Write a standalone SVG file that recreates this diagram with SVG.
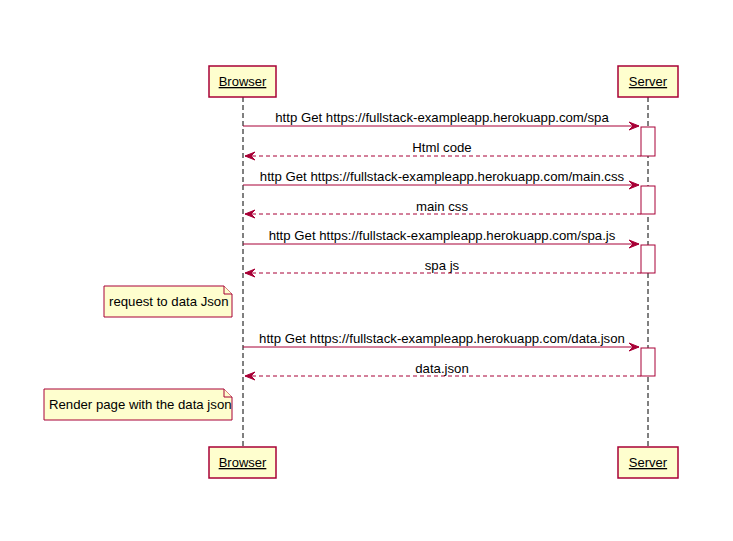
<svg xmlns="http://www.w3.org/2000/svg" width="733" height="541" viewBox="0 0 733 541">
<style>
.part{fill:#FEFECE;stroke:#A80036;stroke-width:1.5}
.ptxt{font-family:"Liberation Sans",Arial,sans-serif;font-size:13px;fill:#000;text-anchor:middle;text-decoration:underline}
.life{stroke:#000;stroke-width:1;stroke-dasharray:5,3;fill:none}
.act{fill:#FFFFFF;stroke:#A80036;stroke-width:1}
.msg{stroke:#A80036;stroke-width:1;fill:none}
.ret{stroke:#A80036;stroke-width:1;fill:none;stroke-dasharray:4,3}
.head{fill:#A80036;stroke:#A80036;stroke-width:1}
.mtxt{font-family:"Liberation Sans",Arial,sans-serif;font-size:13.2px;fill:#000;text-anchor:middle}
.note{fill:#FEFECE;stroke:#A80036;stroke-width:1}
.ntxt{font-family:"Liberation Sans",Arial,sans-serif;font-size:13.2px;fill:#000}
</style>
<rect width="733" height="541" fill="#FFFFFF"/>
<g id="lifelines">
<line class="life" x1="243" y1="97" x2="243" y2="447"/>
<line class="life" x1="648" y1="97" x2="648" y2="447"/>
</g>
<g id="browser">
<rect class="part" x="209" y="66" width="67" height="31"/>
<text class="ptxt" x="242.5" y="86">Browser</text>
</g>
<g id="server">
<rect class="part" x="618" y="66" width="60" height="31"/>
<text class="ptxt" x="648" y="86">Server</text>
</g>
<g id="browser-bottom">
<rect class="part" x="209" y="447" width="67" height="31"/>
<text class="ptxt" x="242.5" y="467">Browser</text>
</g>
<g id="server-bottom">
<rect class="part" x="618" y="447" width="60" height="31"/>
<text class="ptxt" x="648" y="467">Server</text>
</g>
<g id="activations">
<rect class="act" x="641" y="127" width="14" height="29"/>
<rect class="act" x="641" y="186" width="14" height="28"/>
<rect class="act" x="641" y="245" width="14" height="28"/>
<rect class="act" x="641" y="348" width="14" height="28"/>
</g>
<g id="note1">
<path class="note" d="M104,286 L224,286 L232,294 L232,317 L104,317 Z"/>
<path class="note" d="M224,286 L224,294 L232,294"/>
<text class="ntxt" x="109" y="306">request to data Json</text>
</g>
<g id="note2">
<path class="note" d="M44,389 L224,389 L232,397 L232,420 L44,420 Z"/>
<path class="note" d="M224,389 L224,397 L232,397"/>
<text class="ntxt" x="49" y="409">Render page with the data json</text>
</g>
<g id="connectors">
<line class="msg" x1="243" y1="126" x2="639" y2="126"/>
<polygon class="head" points="629,122 639,126 629,130 633,126"/>
<text class="mtxt" x="442" y="122">http Get https://fullstack-exampleapp.herokuapp.com/spa</text>
<line class="ret" x1="641" y1="156" x2="245" y2="156"/>
<polygon class="head" points="255,152 245,156 255,160 251,156"/>
<text class="mtxt" x="442" y="152">Html code</text>

<line class="msg" x1="243" y1="185" x2="639" y2="185"/>
<polygon class="head" points="629,181 639,185 629,189 633,185"/>
<text class="mtxt" x="442" y="181">http Get https://fullstack-exampleapp.herokuapp.com/main.css</text>
<line class="ret" x1="641" y1="214" x2="245" y2="214"/>
<polygon class="head" points="255,210 245,214 255,218 251,214"/>
<text class="mtxt" x="442" y="211">main css</text>

<line class="msg" x1="243" y1="244" x2="639" y2="244"/>
<polygon class="head" points="629,240 639,244 629,248 633,244"/>
<text class="mtxt" x="442" y="240">http Get https://fullstack-exampleapp.herokuapp.com/spa.js</text>
<line class="ret" x1="641" y1="273" x2="245" y2="273"/>
<polygon class="head" points="255,269 245,273 255,277 251,273"/>
<text class="mtxt" x="442" y="270">spa js</text>

<line class="msg" x1="243" y1="347" x2="639" y2="347"/>
<polygon class="head" points="629,343 639,347 629,351 633,347"/>
<text class="mtxt" x="442" y="343">http Get https://fullstack-exampleapp.herokuapp.com/data.json</text>
<line class="ret" x1="641" y1="376" x2="245" y2="376"/>
<polygon class="head" points="255,372 245,376 255,380 251,376"/>
<text class="mtxt" x="442" y="373">data.json</text>
</g>
</svg>
